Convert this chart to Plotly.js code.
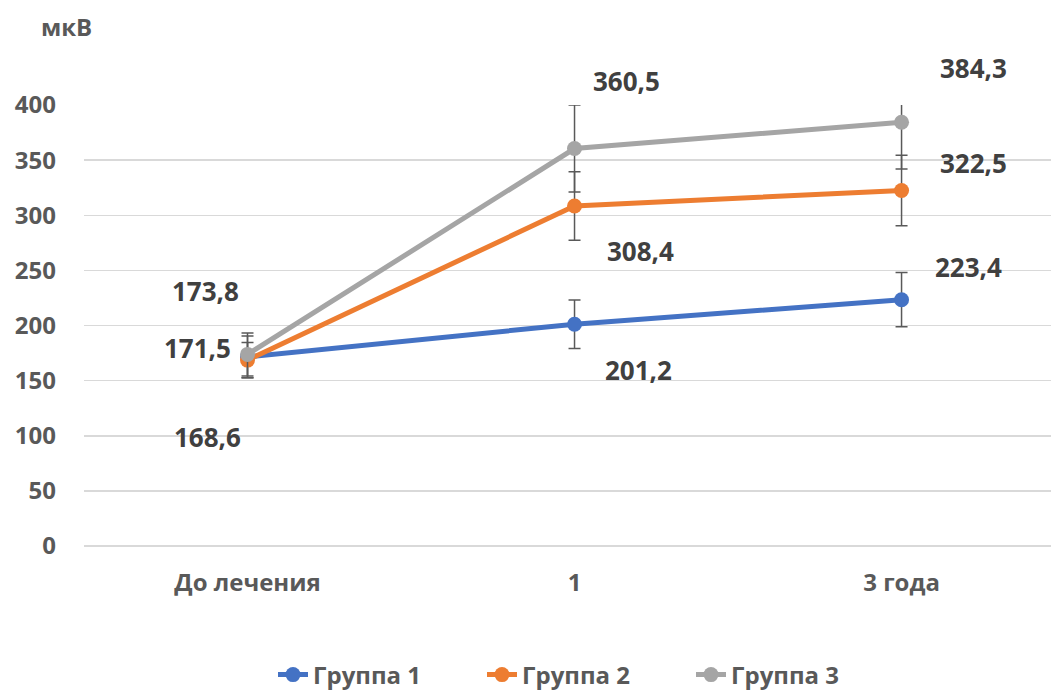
<!DOCTYPE html>
<html>
<head>
<meta charset="utf-8">
<script src="https://cdn.plot.ly/plotly-3.0.1.min.js"></script>
<style>html,body{margin:0;padding:0;background:#fff;}#chart{width:1051px;height:691px;}</style>
</head>
<body>
<div id="chart"></div>
<script>
// ---- data ----
const categories = ["До лечения", "1", "3 года"];
const seriesNames = ["Группа 1", "Группа 2", "Группа 3"];
const group1 = [171.5, 201.2, 223.4];
const group2 = [168.6, 308.4, 322.5];
const group3 = [173.8, 360.5, 384.3];
const group1Err = [19, 22, 24.6];
const group2Err = [16, 31, 32];
const group3Err = [19.5, 39.5, 42.3];
const yTicks = [0, 50, 100, 150, 200, 250, 300, 350, 400];
const yUnit = "мкВ";

// ---- style ----
const colors = ["#4472C4", "#ED7D31", "#A5A5A5"];
const FONT = "Open Sans, DejaVu Sans, sans-serif";
const values = [group1, group2, group3];
const errs = [group1Err, group2Err, group3Err];

// label pixel offsets (per series, per category)
const labelShift = [
  [[-50, 9], [64, -46], [67, 33]],
  [[-40, -77], [66, -45], [72, 27]],
  [[-42, 63], [52, 68], [72, 54]]
];

const traces = values.map((v, i) => ({
  type: "scatter",
  mode: "lines+markers",
  name: seriesNames[i],
  x: categories,
  y: v,
  line: {color: colors[i], width: 5},
  marker: {color: colors[i], size: 15},
  error_y: {type: "data", array: errs[i], visible: true, color: "#595959", thickness: 1.5, width: 6},
  cliponaxis: false
}));

const annotations = [];
values.forEach((v, i) => {
  v.forEach((val, j) => {
    annotations.push({
      x: categories[j], y: val, xref: "x", yref: "y",
      xanchor: "center", yanchor: "middle",
      text: val.toFixed(1).replace(".", ","),
      showarrow: false,
      xshift: labelShift[i][j][0], yshift: labelShift[i][j][1],
      font: {family: FONT, size: 26, color: "#404040", weight: "bold"}
    });
  });
});
annotations.push({
  xref: "paper", yref: "paper", x: (66 - 84) / 967, y: (546 - 26) / 441,
  xanchor: "center", yanchor: "middle",
  text: yUnit, showarrow: false,
  font: {family: FONT, size: 24, color: "#595959", weight: "bold"}
});

const layout = {
  width: 1051, height: 691,
  margin: {l: 84, r: 0, t: 105, b: 145, autoexpand: false},
  paper_bgcolor: "#fff", plot_bgcolor: "#fff",
  showlegend: true,
  legend: {
    orientation: "h", x: (273 - 84) / 967, xanchor: "left", y: (546 - 675) / 441, yanchor: "middle",
    font: {family: FONT, size: 24, color: "#595959", weight: "bold"},
    entrywidth: 164, entrywidthmode: "pixels", tracegroupgap: 0
  },
  xaxis: {
    type: "category", range: [-0.5, 2.457],
    showgrid: false, zeroline: false, showline: false,
    ticks: "", ticklabelstandoff: 20,
    tickfont: {family: FONT, size: 24, color: "#595959", weight: "bold"},
    fixedrange: true, automargin: false
  },
  yaxis: {
    range: [0, 400], tickvals: yTicks, ticktext: yTicks.map(String),
    showgrid: true, gridcolor: "#D9D9D9", gridwidth: 1.5,
    zeroline: true, zerolinecolor: "#D9D9D9", zerolinewidth: 1.5,
    showline: false, ticks: "",
    ticklabelstandoff: 27,
    tickfont: {family: FONT, size: 24, color: "#595959", weight: "bold"},
    fixedrange: true, automargin: false
  },
  annotations: annotations
};

Plotly.newPlot("chart", traces, layout, {displayModeBar: false, staticPlot: true});
</script>
</body>
</html>
